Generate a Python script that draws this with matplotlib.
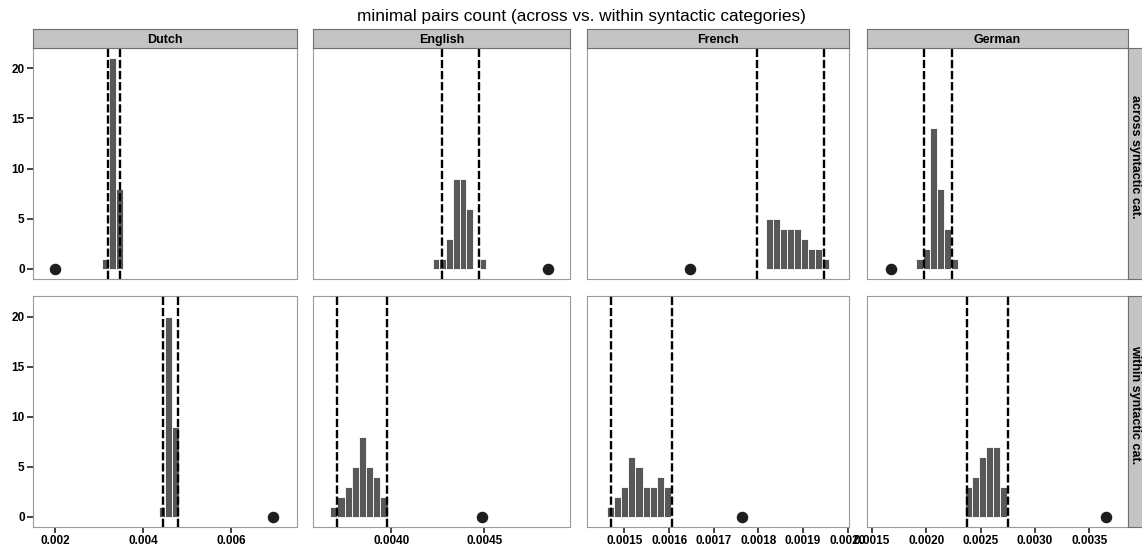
import matplotlib.pyplot as plt

plt.rcParams['font.family'] = ['Liberation Sans', 'DejaVu Sans']

# ================================
# data
# ================================
languages = ["Dutch", "English", "French", "German"]
categories = ["across syntactic cat.", "within syntactic cat."]
title = "minimal pairs count (across vs. within syntactic categories)"

# x range / ticks per language (free x scale per column)
x_limits = {
    "Dutch": (0.0015, 0.0075),
    "English": (0.00358, 0.00496),
    "French": (0.001416, 0.002003),
    "German": (0.001454, 0.003856),
}
x_ticks = {
    "Dutch": [0.002, 0.004, 0.006],
    "English": [0.0040, 0.0045],
    "French": [0.0015, 0.0016, 0.0017, 0.0018, 0.0019, 0.0020],
    "German": [0.0015, 0.0020, 0.0025, 0.0030, 0.0035],
}
x_labels = {
    "Dutch": ["0.002", "0.004", "0.006"],
    "English": ["0.0040", "0.0045"],
    "French": ["0.0015", "0.0016", "0.0017", "0.0018", "0.0019", "0.0020"],
    "German": ["0.0015", "0.0020", "0.0025", "0.0030", "0.0035"],
}

# histogram of the random baseline: first bin start, bin width, counts
hist_start = {
    ("Dutch", 0): 0.00306, ("Dutch", 1): 0.004357,
    ("English", 0): 0.004223, ("English", 1): 0.003673,
    ("French", 0): 0.001818, ("French", 1): 0.00146,
    ("German", 0): 0.001905, ("German", 1): 0.002358,
}
hist_width = {
    ("Dutch", 0): 0.00016, ("Dutch", 1): 0.000154,
    ("English", 0): 0.000036, ("English", 1): 0.0000384,
    ("French", 0): 0.0000156, ("French", 1): 0.0000161,
    ("German", 0): 0.0000643, ("German", 1): 0.000064,
}
hist_counts = {
    ("Dutch", 0): [1, 21, 8], ("Dutch", 1): [1, 20, 9],
    ("English", 0): [1, 1, 3, 9, 9, 6, 0, 1],
    ("English", 1): [1, 2, 3, 5, 8, 5, 4, 2],
    ("French", 0): [5, 5, 4, 4, 4, 3, 2, 2, 1],
    ("French", 1): [1, 2, 3, 6, 5, 3, 3, 4, 3],
    ("German", 0): [1, 2, 14, 8, 4, 1],
    ("German", 1): [3, 4, 6, 7, 7, 3],
}
# dashed interval bounds
interval = {
    ("Dutch", 0): (0.003212, 0.003477), ("Dutch", 1): (0.004462, 0.004789),
    ("English", 0): (0.004272, 0.004471), ("English", 1): (0.00371, 0.003978),
    ("French", 0): (0.001796, 0.001947), ("French", 1): (0.00147, 0.001607),
    ("German", 0): (0.001975, 0.002236), ("German", 1): (0.002374, 0.002754),
}
# observed value (dot)
observed = {
    ("Dutch", 0): 0.0020, ("Dutch", 1): 0.00695,
    ("English", 0): 0.004842, ("English", 1): 0.004489,
    ("French", 0): 0.001646, ("French", 1): 0.001764,
    ("German", 0): 0.001675, ("German", 1): 0.003656,
}
y_ticks = [0, 5, 10, 15, 20]

# ================================
# layout (pixels of a 1142x556 canvas)
# ================================
W, H = 1142, 556
col_left = [33, 313, 587, 867]
col_width = [264, 257, 262, 261]
row_top = [48, 296]
row_height = 231
strip_h = 19
BAR = "#585858"
STRIP = "#c4c4c4"


def style_strip(sax):
    sax.set_xticks([])
    sax.set_yticks([])
    sax.set_facecolor(STRIP)
    for s in sax.spines.values():
        s.set_color("#707070")
        s.set_linewidth(0.8)


fig = plt.figure(figsize=(W / 100, H / 100), dpi=100)
fig.text(581 / W, 1 - 16 / H, title, ha="center", va="center", fontsize=12.4)

for r, cat in enumerate(categories):
    for c, lang in enumerate(languages):
        rect = [col_left[c] / W, 1 - (row_top[r] + row_height) / H,
                col_width[c] / W, row_height / H]
        ax = fig.add_axes(rect)
        key = (lang, r)
        w = hist_width[key]
        lefts = [hist_start[key] + i * w for i in range(len(hist_counts[key]))]
        ax.bar(lefts, hist_counts[key], width=w, align="edge",
               color=BAR, edgecolor="white", linewidth=0.6, zorder=2)
        for v in interval[key]:
            ax.axvline(v, color="black", lw=1.7, ls=(0, (3.5, 1.2)), zorder=3)
        ax.plot([observed[key]], [0], "o", color="#1e1e1e", ms=7.3, zorder=4)

        ax.set_xlim(*x_limits[lang])
        ax.set_ylim(-1.05, 22.05)
        for s in ax.spines.values():
            s.set_color("#9a9a9a")
            s.set_linewidth(0.8)
        ax.tick_params(length=4, width=1.2, color="#222222", labelsize=8.5,
                       pad=2)
        ax.set_yticks(y_ticks)
        if c == 0:
            ax.set_yticklabels([str(t) for t in y_ticks], fontweight="bold")
        else:
            ax.tick_params(axis="y", left=False, labelleft=False)
        ax.set_xticks(x_ticks[lang])
        if r == 1:
            ax.set_xticklabels(x_labels[lang], fontweight="bold")
        else:
            ax.tick_params(axis="x", bottom=False, labelbottom=False)

        # top strips with language names
        if r == 0:
            sax = fig.add_axes([col_left[c] / W, 1 - row_top[r] / H,
                                col_width[c] / W, strip_h / H])
            style_strip(sax)
            sax.text(0.5, 0.5, lang, ha="center", va="center_baseline",
                     fontsize=9, fontweight="bold", transform=sax.transAxes)

        # right strips with the category names
        if c == len(languages) - 1:
            rx = (col_left[c] + col_width[c]) / W
            rax = fig.add_axes([rx, rect[1], 19 / W, row_height / H])
            style_strip(rax)
            rax.text(0.36, 0.53, cat, ha="center", va="center",
                     rotation=-90, fontsize=9, fontweight="bold",
                     transform=rax.transAxes)

fig.savefig("out.png", dpi=100)
